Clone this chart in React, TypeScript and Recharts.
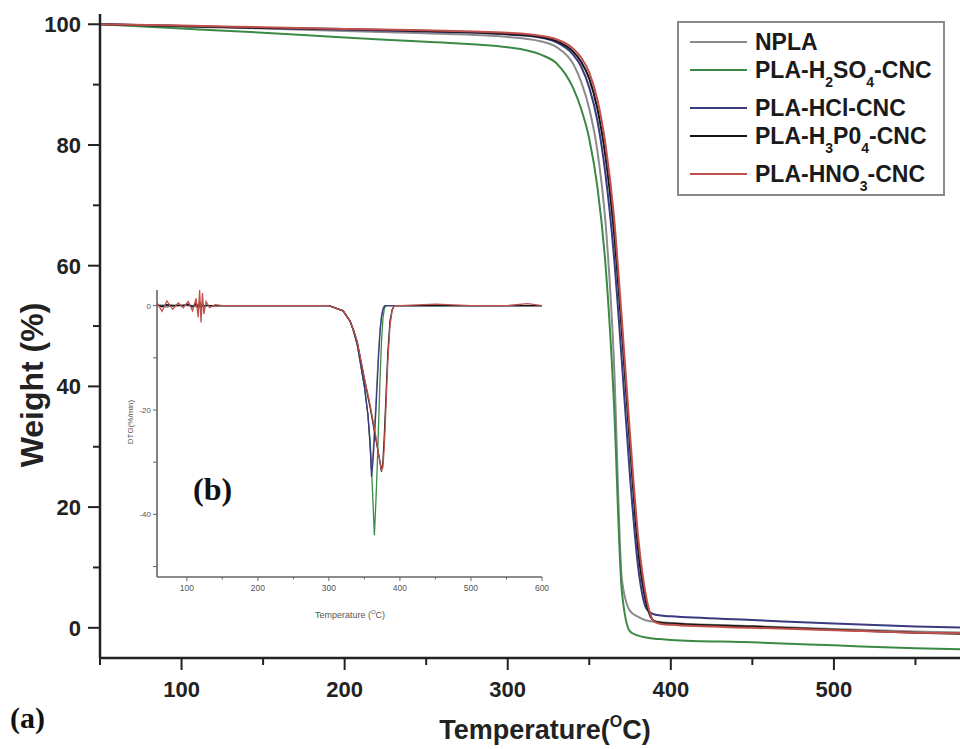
import React from "react";
import { LineChart, Line, XAxis, YAxis } from "recharts";

// TGA curves (weight %)
const temps = [50, 100, 150, 200, 250, 300, 320, 330, 340, 345, 350, 355, 360, 365, 370, 375, 380, 385, 390, 395, 400, 450, 500, 550, 600];
const npla = [100, 99.6, 99.3, 98.9, 98.5, 97.9, 97.2, 96.2, 93.5, 90.5, 86, 79, 67, 45, 8, 2.8, 1.8, 1.2, 1.0, 0.9, 0.8, 0.3, -0.2, -0.6, -0.9];
const h2so4 = [100, 99.3, 98.6, 97.8, 97.1, 96.2, 95.0, 93.5, 89.5, 86, 81, 73, 60, 38, 6, -0.6, -1.3, -1.6, -1.8, -1.9, -2.0, -2.4, -2.9, -3.4, -3.7];
const hcl = [100, 99.7, 99.4, 99.1, 98.8, 98.3, 97.8, 97.0, 95.0, 93.0, 89.5, 84, 75, 62, 44, 25, 10, 3.2, 2.2, 2.0, 1.9, 1.3, 0.7, 0.2, -0.1];
const h3po4 = [100, 99.7, 99.4, 99.2, 98.9, 98.4, 97.9, 97.2, 95.5, 93.8, 91, 86, 78, 66, 49, 30, 13, 4, 1.1, 0.8, 0.7, 0.2, -0.3, -0.8, -1.1];
const hno3 = [100, 99.8, 99.5, 99.2, 99.0, 98.6, 98.1, 97.5, 96.0, 94.5, 92, 87.5, 80, 68.5, 51, 32, 15, 5, 1.0, 0.6, 0.5, 0.0, -0.4, -0.8, -1.0];

// the figure is cropped on the right, so the 600 tick is never visible
const xTicks = [50, 100, 150, 200, 250, 300, 350, 400, 450, 500, 550];
const yTicks = [0, 10, 20, 30, 40, 50, 60, 70, 80, 90, 100];

// DTG inset (%/min)
const dtgTemps = [58, 65, 72, 80, 88, 95, 102, 108, 113, 116, 118, 120, 122, 124, 127, 132, 140, 150, 200, 250, 300, 320, 330, 335, 340, 345, 350, 355, 358, 360, 362, 364, 366, 368, 370, 372, 374, 376, 378, 380, 383, 386, 389, 392, 400, 450, 500, 550, 580, 600];
const dtgNpla = [0.2, 0, -0.3, 0.1, 0, 0, 0.2, -0.2, 0.3, -0.4, 0.5, -0.5, 0.3, -0.2, 0, 0, 0, 0, 0, 0, 0, -1, -3, -5, -7.5, -11.5, -15.5, -21, -27, -31.5, -28.5, -24, -19, -13.5, -8.5, -4.5, -2, -0.6, 0, 0, 0, 0, 0, 0, 0, 0, 0, 0, 0, 0];
const dtgH2so4 = [0, 0.1, 0, -0.1, 0, 0, 0.1, 0, -0.2, 0.2, -0.3, 0.3, -0.1, 0, 0, 0, 0, 0, 0, 0, 0, -1, -3, -5, -7.5, -11.5, -15.5, -21, -26, -31, -37.5, -44, -38, -31, -22.5, -14, -7, -2.5, -0.6, 0, 0, 0, 0, 0, 0, 0, 0, 0, 0, 0];
const dtgHcl = [0.1, -0.1, 0.2, 0, 0, 0.1, 0, -0.1, 0.2, -0.3, 0.4, -0.4, 0.2, 0, 0, 0, 0, 0, 0, 0, 0, -1, -3, -5, -7.5, -11.5, -15.5, -21, -26.5, -32.8, -30, -25.5, -20.5, -15, -9.5, -5, -2.2, -0.8, -0.2, 0, 0, 0, 0, 0, 0, 0, 0, 0, 0, 0];
const dtgH3po4 = [0.1, -0.2, 0.2, 0, 0.1, 0, 0.3, -0.2, 0.4, -0.5, 0.8, -0.6, 0.4, -0.2, 0.1, 0, 0, 0, 0, 0, 0, -1, -3, -4.8, -7, -10.5, -14, -17.5, -19.5, -21, -22.5, -24, -25.5, -27, -28.5, -30, -31.8, -30, -25, -18.5, -9, -3, -0.8, 0, 0, 0, 0, 0, 0, 0];
const dtgHno3 = [0.6, -1.1, 0.9, -0.7, 0.5, -0.4, 0.8, -1.0, 1.4, -2.2, 3.0, -3.2, 2.4, -1.6, 0.8, -0.4, 0.2, 0, 0, 0, 0, -1, -3, -4.8, -7, -10.5, -14, -17, -19, -20.5, -22, -23.5, -25, -26.8, -28.5, -30.2, -31.5, -31, -27, -20.5, -10.5, -3.8, -1, 0, 0, 0.3, 0, 0, 0.4, 0];

const dtgXTicks = [100, 150, 200, 250, 300, 350, 400, 450, 500, 550, 600];
const dtgYTicks = [0, -10, -20, -30, -40, -50];

const series = [
  { key: "npla", label: "NPLA", color: "#8c8c8c" },
  { key: "h2so4", label: "PLA-H_2SO_4-CNC", color: "#3a8a45" },
  { key: "hcl", label: "PLA-HCl-CNC", color: "#3b3a80" },
  { key: "h3po4", label: "PLA-H_3P0_4-CNC", color: "#151515" },
  { key: "hno3", label: "PLA-HNO_3-CNC", color: "#c0504d" },
];

const tgaData = temps.map((t, i) => ({ t, npla: npla[i], h2so4: h2so4[i], hcl: hcl[i], h3po4: h3po4[i], hno3: hno3[i] }));
const dtgData = dtgTemps.map((t, i) => ({
  t,
  npla: dtgNpla[i],
  h2so4: dtgH2so4[i],
  hcl: dtgHcl[i],
  h3po4: dtgH3po4[i],
  hno3: dtgHno3[i],
}));

const AXIS = "#222";

const MainXTick = ({ x, y, payload }: any) => {
  const major = payload.value % 100 === 0;
  return (
    <g>
      <line x1={x} y1={y} x2={x} y2={y + (major ? 12 : 7)} stroke={AXIS} strokeWidth={2} />
      {major && (
        <text x={x} y={y + 39} textAnchor="middle" fontSize={22} fontWeight="bold" fill={AXIS}>
          {payload.value}
        </text>
      )}
    </g>
  );
};

const MainYTick = ({ x, y, payload }: any) => {
  const major = payload.value % 20 === 0;
  return (
    <g>
      <line x1={x} y1={y} x2={x - (major ? 12 : 7)} y2={y} stroke={AXIS} strokeWidth={2} />
      {major && (
        <text x={x - 19} y={y + 8} textAnchor="end" fontSize={22} fontWeight="bold" fill={AXIS}>
          {payload.value}
        </text>
      )}
    </g>
  );
};

const InsetXTick = ({ x, y, payload }: any) => {
  const major = payload.value % 100 === 0;
  return (
    <g>
      <line x1={x} y1={y} x2={x} y2={y + (major ? 4 : 2.5)} stroke="#666" strokeWidth={1} />
      {major && (
        <text x={x} y={y + 14} textAnchor="middle" fontSize={8.5} fill="#555">
          {payload.value}
        </text>
      )}
    </g>
  );
};

const InsetYTick = ({ x, y, payload }: any) => {
  const labelled = payload.value % 20 === 0;
  return (
    <g>
      <line x1={x} y1={y} x2={x - 4} y2={y} stroke="#666" strokeWidth={1} />
      {labelled && (
        <text x={x - 6} y={y + 3} textAnchor="end" fontSize={8} fill="#555">
          {payload.value}
        </text>
      )}
    </g>
  );
};

// "H_2SO_4" -> H<sub>2</sub>SO<sub>4</sub>
function renderLabel(label: string) {
  const parts: React.ReactNode[] = [];
  let buf = "";
  for (let i = 0; i < label.length; i++) {
    if (label[i] === "_") {
      if (buf) parts.push(buf);
      buf = "";
      parts.push(
        <span key={i} style={{ fontSize: 14, position: "relative", top: 9 }}>
          {label[i + 1]}
        </span>
      );
      i++;
    } else buf += label[i];
  }
  if (buf) parts.push(buf);
  return parts;
}

function LegendBox() {
  return (
    <div
      style={{
        position: "absolute",
        left: 677,
        top: 21,
        width: 268,
        height: 175,
        border: "2px solid #8a8a8a",
        background: "#fff",
        paddingTop: 5,
        boxSizing: "border-box",
      }}
    >
      {series.map((s) => (
        <div
          key={s.key}
          style={{
            height: 28,
            marginBottom: s.label.includes("_") ? 10 : 0,
            display: "flex",
            alignItems: "center",
            fontSize: 23,
            fontWeight: "bold",
            color: "#1a1a1a",
            whiteSpace: "nowrap",
          }}
        >
          <div style={{ marginLeft: 11, width: 57, height: 2.5, background: s.color, marginRight: 8 }} />
          <span>{renderLabel(s.label)}</span>
        </div>
      ))}
    </div>
  );
}

export default function App() {
  return (
    <div
      style={{
        position: "absolute",
        left: 0,
        top: 0,
        width: 960,
        height: 749,
        overflow: "hidden",
        background: "#fff",
        fontFamily: '"Liberation Sans", Arial, sans-serif',
      }}
    >
      <LineChart width={1010} height={749} data={tgaData} margin={{ top: 14, right: 13, bottom: 0, left: 0 }}>
        <XAxis
          dataKey="t"
          type="number"
          domain={[50, 600]}
          ticks={xTicks}
          interval={0}
          height={91}
          tickSize={0}
          tickMargin={0}
          tickLine={false}
          tick={<MainXTick />}
          axisLine={{ stroke: AXIS, strokeWidth: 2.5 }}
          allowDataOverflow
        />
        <XAxis
          xAxisId="top"
          orientation="top"
          dataKey="t"
          type="number"
          domain={[50, 600]}
          height={0}
          tick={false}
          tickLine={false}
          axisLine={{ stroke: AXIS, strokeWidth: 2.5 }}
        />
        <YAxis
          type="number"
          domain={[-5, 101.7]}
          ticks={yTicks}
          interval={0}
          width={100}
          tickSize={0}
          tickMargin={0}
          tickLine={false}
          tick={<MainYTick />}
          axisLine={{ stroke: AXIS, strokeWidth: 2.5 }}
          allowDataOverflow
        />
        <YAxis
          yAxisId="right"
          orientation="right"
          domain={[-5, 101.7]}
          width={0}
          tick={false}
          tickLine={false}
          axisLine={{ stroke: AXIS, strokeWidth: 2.5 }}
        />
        {series.map((s) => (
          <Line
            key={s.key}
            type="monotone"
            dataKey={s.key}
            stroke={s.color}
            strokeWidth={2}
            dot={false}
            isAnimationActive={false}
          />
        ))}
      </LineChart>

      <div style={{ position: "absolute", left: 100, top: 280 }}>
        <LineChart width={452} height={350} data={dtgData} margin={{ top: 10, right: 10, bottom: 0, left: 0 }}>
          <XAxis
            dataKey="t"
            type="number"
            domain={[58, 600]}
            ticks={dtgXTicks}
            interval={0}
            height={53}
            tickSize={0}
            tickMargin={0}
            tickLine={false}
            tick={<InsetXTick />}
            axisLine={{ stroke: "#666", strokeWidth: 1.6 }}
            allowDataOverflow
          />
          <XAxis
            xAxisId="top"
            orientation="top"
            dataKey="t"
            type="number"
            domain={[58, 600]}
            height={0}
            tick={false}
            tickLine={false}
            axisLine={{ stroke: "#9a9a9a", strokeWidth: 1.3 }}
          />
          <YAxis
            type="number"
            domain={[-52, 3]}
            ticks={dtgYTicks}
            interval={0}
            width={57}
            tickSize={0}
            tickMargin={0}
            tickLine={false}
            tick={<InsetYTick />}
            axisLine={{ stroke: "#666", strokeWidth: 1.6 }}
            allowDataOverflow
          />
          <YAxis
            yAxisId="right"
            orientation="right"
            domain={[-52, 3]}
            width={0}
            tick={false}
            tickLine={false}
            axisLine={{ stroke: "#9a9a9a", strokeWidth: 1.3 }}
          />
          {series.map((s) => (
            <Line
              key={s.key}
              type="linear"
              dataKey={s.key}
              stroke={s.color}
              strokeWidth={1.3}
              dot={false}
              isAnimationActive={false}
            />
          ))}
        </LineChart>
      </div>

      <LegendBox />

      <svg width={960} height={749} style={{ position: "absolute", left: 0, top: 0, pointerEvents: "none" }}>
        <text
          transform="translate(43, 385) rotate(-90)"
          textAnchor="middle"
          fontSize={32}
          fontWeight="bold"
          fill={AXIS}
        >
          Weight (%)
        </text>
        <text x={545} y={739} textAnchor="middle" fontSize={27} fontWeight="bold" fill={AXIS}>
          Temperature(<tspan fontSize={16} dy={-12}>O</tspan>
          <tspan dy={12}>C)</tspan>
        </text>
        <text x={10} y={728} fontSize={30} fontWeight="bold" fontFamily='"Liberation Serif", serif' fill="#111">
          (a)
        </text>
        <text x={193} y={500} fontSize={32} fontWeight="bold" fontFamily='"Liberation Serif", serif' fill="#111">
          (b)
        </text>
        <text transform="translate(133, 422) rotate(-90)" textAnchor="middle" fontSize={8} fill="#555">
          DTG(%/min)
        </text>
        <text x={350} y={618} textAnchor="middle" fontSize={9} fill="#555">
          Temperature (<tspan fontSize={6} dy={-4}>O</tspan>
          <tspan dy={4}>C)</tspan>
        </text>
      </svg>
    </div>
  );
}
